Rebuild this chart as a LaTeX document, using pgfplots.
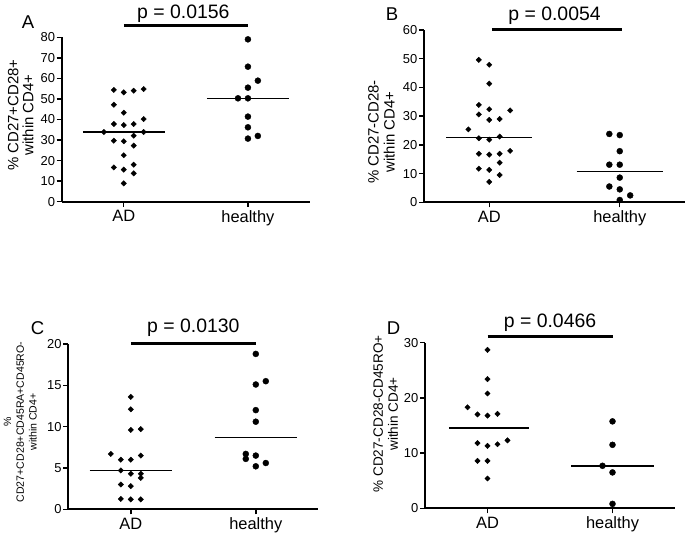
\documentclass[border=0pt]{standalone}
\usepackage{fontspec}
\setmainfont{Liberation Sans}
\usepackage{pgfplots}
\pgfplotsset{compat=1.18}
\pgfplotsset{
  prism/.style={
    scale only axis,
    anchor=south west,
    axis x line*=bottom, axis y line*=left,
    xmin=0.5, xmax=2.5, ymin=0,
    xtick={1,2}, xticklabels={AD,healthy},
    tick align=outside, major tick length=5bp,
    axis line style={line width=2.2bp},
    every tick/.style={line width=1.4bp, black},
    clip=false,
    /pgf/number format/assume math mode=true,
    yticklabel style={font=\fontsize{13}{13}\selectfont, inner sep=1.5bp},
    xticklabel style={font=\fontsize{16.5}{16.5}\selectfont},
  },
  ad/.style={only marks, mark=square*, mark size=1.9bp, mark options={rotate=45, black}},
  hl/.style={only marks, mark=*, mark size=3bp, mark options={black}},
  med/.style={black, line width=1.6bp, mark=none},
  sig/.style={black, line width=3bp, mark=none},
}
\newcommand{\ptext}{\fontsize{19.5}{19.5}\selectfont}
\begin{document}
\begin{tikzpicture}
\path[use as bounding box] (0bp,0bp) rectangle (690bp,537bp);
% ---------- A
\begin{axis}[prism, at={(61.7bp,335.3bp)}, width=248.3bp, height=164.4bp, ymax=80, ytick={0,10,...,80}]
\addplot[ad] coordinates {(0.84,33.9) (0.92,54.4) (1.00,53.2) (1.08,54.0) (1.16,54.8)
 (0.92,47.2) (1.00,43.3) (0.92,37.8) (1.00,37.3) (1.08,37.8) (1.16,40.2) (1.16,33.9)
 (0.92,29.7) (1.00,29.4) (1.08,32.1) (1.08,27.3) (1.00,22.6) (0.92,16.7) (1.00,15.6)
 (1.08,18.0) (1.08,13.8) (1.00,8.9)};
\addplot[hl] coordinates {(2,79.0) (2,65.7) (2.08,58.9) (2,55.5) (1.92,50.3) (2,50.3) (2,41.4) (2,36.2) (2,30.7) (2.08,32.0)};
\addplot[med] coordinates {(0.67,33.9) (1.33,33.9)};
\addplot[med] coordinates {(1.67,50.3) (2.33,50.3)};
\addplot[sig] coordinates {(1,85.5) (2,85.5)};
\node[anchor=base, yshift=7bp, font=\ptext] at (axis cs:1.48,85.5) {p = 0.0156};
\end{axis}
% ---------- B
\begin{axis}[prism, at={(424bp,334.7bp)}, width=261bp, height=172.3bp, ymax=60, ytick={0,10,...,60}]
\addplot[ad] coordinates {(0.92,49.6) (1,47.9) (1,41.3) (0.92,33.9) (1,32.4) (1.16,32.0)
 (0.92,30.6) (1,28.7) (1.08,29.0) (0.84,25.4) (0.92,22.3) (1,21.8) (1.08,22.9)
 (0.92,16.9) (1,16.6) (1.08,16.9) (1.16,17.9) (1.08,13.8) (0.92,11.7) (1,11.3) (1.08,9.5) (1,7.1)};
\addplot[hl] coordinates {(1.92,23.8) (2,23.4) (2,17.8) (1.92,13.1) (2,13.1) (2,8.6) (1.92,5.5) (2,4.5) (2.08,2.4) (2,0.8)};
\addplot[med] coordinates {(0.67,22.5) (1.33,22.5)};
\addplot[med] coordinates {(1.67,10.7) (2.33,10.7)};
\addplot[sig] coordinates {(1.02,60) (2.02,60)};
\node[anchor=base, yshift=9bp, font=\ptext] at (axis cs:1.5,60) {p = 0.0054};
\end{axis}
% ---------- C
\begin{axis}[prism, at={(68.3bp,27.7bp)}, width=250bp, height=165.3bp, ymax=20, ytick={0,5,...,20}]
\addplot[ad] coordinates {(1,13.6) (1,12.1) (1,9.6) (1.08,9.7) (0.84,6.7) (0.92,6.0) (1,6.0) (1.08,6.5)
 (0.92,4.7) (1,4.3) (1.08,4.3) (1.08,3.8) (0.92,3.0) (1,2.8) (0.92,1.25) (1,1.2) (1.08,1.2)};
\addplot[hl] coordinates {(2,18.8) (2,15.1) (2.08,15.5) (2,12.0) (2,10.6) (1.92,6.7) (1.92,6.1) (2,6.5) (2.08,5.6) (2,5.2)};
\addplot[med] coordinates {(0.67,4.7) (1.33,4.7)};
\addplot[med] coordinates {(1.67,8.7) (2.33,8.7)};
\addplot[sig] coordinates {(1,20) (2,20)};
\node[anchor=base, yshift=11bp, font=\ptext] at (axis cs:1.5,20) {p = 0.0130};
\end{axis}
% ---------- D
\begin{axis}[prism, at={(425bp,28.7bp)}, width=250bp, height=165.6bp, ymax=30, ytick={0,10,...,30}]
\addplot[ad] coordinates {(1,28.7) (1,23.4) (1,20.8) (0.84,18.3) (0.92,17.0) (1,16.8) (1.08,17.1)
 (0.92,11.8) (1,11.3) (1.08,11.6) (1.16,12.3) (0.92,8.6) (1,8.6) (1,5.4)};
\addplot[hl] coordinates {(2,15.75) (2,11.5) (1.92,7.7) (2,6.5) (2,0.8)};
\addplot[med] coordinates {(0.69,14.6) (1.33,14.6)};
\addplot[med] coordinates {(1.67,7.7) (2.33,7.7)};
\addplot[sig] coordinates {(1,31.2) (2,31.2)};
\node[anchor=base, yshift=8.5bp, font=\ptext] at (axis cs:1.5,31.2) {p = 0.0466};
\end{axis}
% ---------- panel letters
\node[anchor=base west, inner sep=0, font=\fontsize{18.6}{18.6}\selectfont] at (21.7bp,508.7bp) {A};
\node[anchor=base west, inner sep=0, font=\fontsize{18.6}{18.6}\selectfont] at (385.7bp,516.3bp) {B};
\node[anchor=base west, inner sep=0, font=\fontsize{18.6}{18.6}\selectfont] at (30.7bp,202.7bp) {C};
\node[anchor=base west, inner sep=0, font=\fontsize{18.6}{18.6}\selectfont] at (386.7bp,202bp) {D};
% ---------- y labels
\node[rotate=90, align=center, inner sep=0, font=\fontsize{15}{15}\selectfont] at (20.8bp,422bp) {\% CD27+CD28+\\within CD4+};
\node[rotate=90, align=center, inner sep=0, font=\fontsize{15}{16}\selectfont] at (381.5bp,405bp) {\% CD27-CD28-\\within CD4+};
\node[rotate=90, align=center, inner sep=0, font=\fontsize{10.6}{12.8}\selectfont] at (20.3bp,115bp) {\%\\CD27+CD28+CD45RA+CD45RO-\\within CD4+};
\node[rotate=90, align=center, inner sep=0, font=\fontsize{13.6}{15}\selectfont] at (385.8bp,123bp) {\% CD27-CD28-CD45RO+\\within CD4+};
\end{tikzpicture}
\end{document}
